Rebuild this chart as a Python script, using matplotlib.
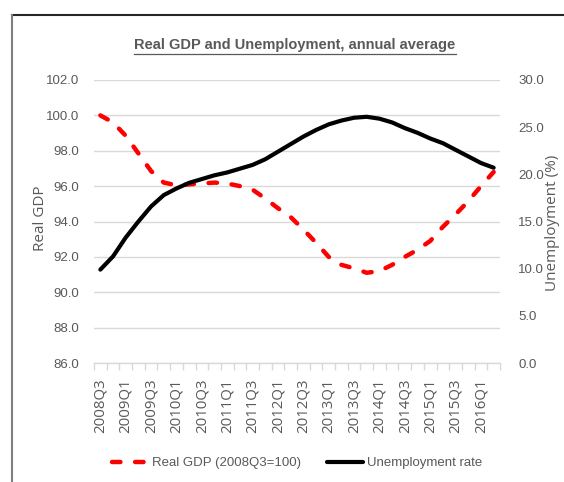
import matplotlib
matplotlib.use("Agg")
import matplotlib.pyplot as plt
from matplotlib import font_manager
from matplotlib.lines import Line2D
import numpy as np

# ---- data ----
quarters = [f"{y}Q{q}" for y in range(2008, 2017) for q in range(1, 5)]
quarters = quarters[quarters.index("2008Q3"):quarters.index("2016Q2") + 1]

real_gdp = [100.0, 99.6, 98.85, 97.85, 96.85, 96.2, 96.05, 96.1, 96.15, 96.2,
            96.15, 96.0, 95.8, 95.3, 94.75, 94.25, 93.55, 92.8, 92.0, 91.55,
            91.35, 91.1, 91.2, 91.55, 92.0, 92.4, 92.9, 93.7, 94.4, 95.15,
            96.0, 96.8]
unemployment = [9.9, 11.3, 13.3, 15.0, 16.6, 17.8, 18.5, 19.1, 19.5, 19.9,
                20.2, 20.6, 21.0, 21.6, 22.4, 23.2, 24.0, 24.7, 25.3, 25.7,
                26.0, 26.1, 25.9, 25.5, 24.9, 24.4, 23.8, 23.3, 22.6, 21.9,
                21.2, 20.7]

left_ticks = [86.0, 88.0, 90.0, 92.0, 94.0, 96.0, 98.0, 100.0, 102.0]
right_ticks = [0.0, 5.0, 10.0, 15.0, 20.0, 25.0, 30.0]

title = "Real GDP and Unemployment, annual average"
gdp_label = "Real GDP (2008Q3=100)"
unemp_label = "Unemployment rate"

# ---- fonts ----
avail = {f.name for f in font_manager.fontManager.ttflist}
narrow = "Liberation Sans Narrow" if "Liberation Sans Narrow" in avail else "Liberation Sans"
wide = "Open Sans" if "Open Sans" in avail else "DejaVu Sans"
gray = "#595959"

W, H = 564, 482
fig = plt.figure(figsize=(W / 100, H / 100), dpi=100)
ax = fig.add_axes([94 / W, 1 - 363 / H, (500 - 94) / W, (363 - 80) / H])
ax2 = ax.twinx()

x = np.arange(len(quarters))
ax.plot(x, real_gdp, color="#FF0000", lw=3.2, dashes=(1.9, 3.3),
        dash_capstyle="round", solid_capstyle="round", label=gdp_label, zorder=3)
ax2.plot(x, unemployment, color="black", lw=3.0, solid_capstyle="round",
         label=unemp_label, zorder=3)

ax.set_xlim(-0.5, len(quarters) - 0.5)
ax.set_ylim(86, 102)
ax2.set_ylim(0, 30)
ax.set_yticks(left_ticks)
ax.set_yticklabels([f"{v:.1f}" for v in left_ticks])
ax2.set_yticks(right_ticks)
ax2.set_yticklabels([f"{v:.1f}" for v in right_ticks])

ax.set_xticks(x[::2])
ax.set_xticklabels(quarters[::2], rotation=90, fontfamily=wide, fontsize=10.8, color=gray)
ax.set_xticks(np.arange(-0.5, len(quarters), 1), minor=True)
ax.tick_params(axis="x", which="major", length=0, pad=11)
ax.tick_params(axis="x", which="minor", length=5, color="#D9D9D9", width=1)

for a in (ax, ax2):
    for s in a.spines.values():
        s.set_visible(False)
ax.spines["bottom"].set_visible(True)
ax.spines["bottom"].set_color("#D9D9D9")
ax.spines["bottom"].set_linewidth(1)

ax.tick_params(axis="y", length=0, pad=11, labelsize=9.5, labelcolor=gray)
ax2.tick_params(axis="y", length=0, pad=13, labelsize=9.5, labelcolor=gray)
for lab in ax.get_yticklabels() + ax2.get_yticklabels():
    lab.set_fontfamily(narrow)

ax.grid(axis="y", color="#D9D9D9", lw=1)
ax.set_axisbelow(True)

fig.text(40 / W, 1 - 218 / H, "Real GDP", rotation=90, ha="center", va="center",
         fontfamily=wide, fontsize=11, color=gray)
fig.text(553 / W, 1 - 223 / H, "Unemployment (%)", rotation=90, ha="center", va="center",
         fontfamily=wide, fontsize=11, color=gray)

ttl = fig.text(295 / W, 1 - 45 / H, title, ha="center", va="center", fontfamily=narrow,
               fontweight="bold", fontsize=10.5, color=gray)

# legend
h1, l1 = ax.get_legend_handles_labels()
h2, l2 = ax2.get_legend_handles_labels()
leg = fig.legend(h1 + h2, l1 + l2, loc="center", bbox_to_anchor=(297 / W, 1 - 463 / H),
                 ncol=2, frameon=False, prop={"family": narrow, "size": 9.5},
                 handlelength=2.7, columnspacing=2.0, handletextpad=0.3)
for t in leg.get_texts():
    t.set_color(gray)

# title underline matched to the rendered title
fig.canvas.draw()
bb = ttl.get_window_extent()
uy = bb.y0 - 1.5
fig.add_artist(Line2D([bb.x0 / W, bb.x1 / W], [uy / H, uy / H],
                      color=gray, lw=0.9, transform=fig.transFigure))

# chart border (top and left visible)
fig.add_artist(Line2D([12 / W, 1.0], [1 - 15 / H, 1 - 15 / H], color="#262626", lw=1.5,
                      transform=fig.transFigure))
fig.add_artist(Line2D([12 / W, 12 / W], [1 - 15 / H, 0.0], color="#7F7F7F", lw=1.5,
                      transform=fig.transFigure))

fig.savefig("out.png", dpi=100, facecolor="white")
